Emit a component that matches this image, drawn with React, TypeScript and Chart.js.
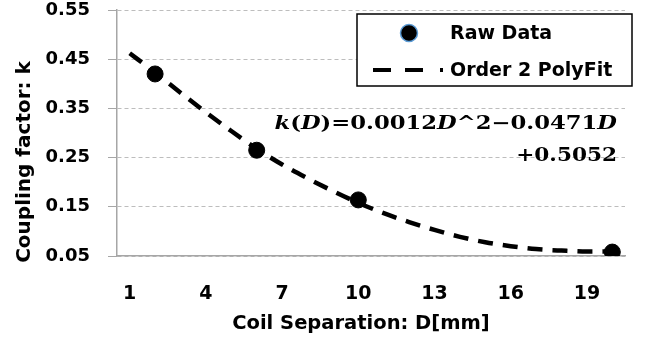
import React, { useEffect, useRef } from 'react';
import { Chart, registerables } from 'chart.js';

Chart.register(...registerables);

// ---- data ----
const rawD = [2, 6, 10, 20];
const rawK = [0.42, 0.265, 0.164, 0.058];
const fitD = [1, 2, 3, 4, 5, 6, 7, 8, 9, 10, 11, 12, 13, 14, 15, 16, 17, 18, 19, 20];
const fitK = [0.462, 0.423, 0.382, 0.342, 0.304, 0.268, 0.236, 0.208, 0.182, 0.158, 0.137, 0.119, 0.103, 0.089, 0.078, 0.07, 0.064, 0.061, 0.059, 0.059];
const xTicks = [1, 4, 7, 10, 13, 16, 19];
const yTicks = [0.05, 0.15, 0.25, 0.35, 0.45, 0.55];
const seriesNames = ['Raw Data', 'Order 2 PolyFit'];
const xTitle = 'Coil Separation: D[mm]';
const yTitle = 'Coupling factor: k';
const eqLine1: [string, boolean][] = [
  ['k', true], ['(', false], ['D', true], [')=0.0012', false], ['D', true], ['^2\u22120.0471', false], ['D', true],
];
const eqLine2 = '+0.5052';

const SANS = '"DejaVu Sans", sans-serif';
const SERIF = '"DejaVu Serif", serif';

const overlay = {
  id: 'overlay',
  afterDraw(chart: any) {
    const ctx = chart.ctx as CanvasRenderingContext2D;
    const ca = chart.chartArea;
    ctx.save();
    ctx.setLineDash([]);
    // y title
    ctx.fillStyle = '#000';
    ctx.font = `bold 20px ${SANS}`;
    ctx.textAlign = 'center';
    ctx.textBaseline = 'middle';
    ctx.save();
    ctx.translate(25, ca.top + 152);
    ctx.rotate(-Math.PI / 2);
    ctx.fillText(yTitle, 0, 0);
    ctx.restore();
    // x title
    ctx.font = `bold 19.5px ${SANS}`;
    ctx.fillText(xTitle, ca.left + 244, ca.bottom + 68);

    // legend
    const lx = 357, ly = 14, lw = 275, lh = 72;
    ctx.fillStyle = '#fff';
    ctx.fillRect(lx, ly, lw, lh);
    ctx.strokeStyle = '#000';
    ctx.lineWidth = 1.5;
    ctx.strokeRect(lx, ly, lw, lh);
    ctx.beginPath();
    ctx.arc(409, 33, 8.5, 0, Math.PI * 2);
    ctx.fillStyle = '#000';
    ctx.fill();
    ctx.strokeStyle = '#5B9BD5';
    ctx.lineWidth = 1.5;
    ctx.stroke();
    ctx.strokeStyle = '#000';
    ctx.lineWidth = 4;
    ctx.beginPath();
    ctx.moveTo(373, 70); ctx.lineTo(391, 70);
    ctx.moveTo(405, 70); ctx.lineTo(423, 70);
    ctx.moveTo(440, 70); ctx.lineTo(443, 70);
    ctx.stroke();
    ctx.fillStyle = '#000';
    ctx.font = `bold 19px ${SANS}`;
    ctx.textAlign = 'left';
    ctx.fillText(seriesNames[0], 450, 34);
    ctx.fillText(seriesNames[1], 450, 71);

    // equation
    const right = ca.right - 8;
    const segFont = (it: boolean) => `${it ? 'italic ' : ''}bold 18px ${SERIF}`;
    let total = 0;
    for (const [t, it] of eqLine1) { ctx.font = segFont(it); total += ctx.measureText(t).width; }
    const sx1 = 1.26;
    ctx.save();
    ctx.translate(right - total * sx1, 124);
    ctx.scale(sx1, 1);
    let x = 0;
    for (const [t, it] of eqLine1) {
      ctx.font = segFont(it);
      ctx.fillText(t, x, 0);
      x += ctx.measureText(t).width;
    }
    ctx.restore();
    ctx.font = segFont(false);
    const w2 = ctx.measureText(eqLine2).width;
    const sx2 = 1.2;
    ctx.save();
    ctx.translate(right - w2 * sx2, 156);
    ctx.scale(sx2, 1);
    ctx.fillText(eqLine2, 0, 0);
    ctx.restore();
    ctx.restore();
  },
};

export default function App() {
  const ref = useRef<HTMLCanvasElement>(null);
  useEffect(() => {
    if (!ref.current) return;
    const chart = new Chart(ref.current, {
      type: 'scatter',
      data: {
        datasets: [
          {
            label: seriesNames[1],
            data: fitD.map((d, i) => ({ x: d, y: fitK[i] })),
            showLine: true,
            borderColor: '#000',
            borderWidth: 4.5,
            borderDash: [15, 10],
            pointRadius: 0,
            tension: 0.4,
            cubicInterpolationMode: 'monotone',
            order: 2,
          } as any,
          {
            label: seriesNames[0],
            data: rawD.map((d, i) => ({ x: d, y: rawK[i] })),
            backgroundColor: '#000',
            borderColor: '#000',
            pointRadius: 8,
            pointHoverRadius: 8,
            order: 1,
          },
        ],
      },
      options: {
        animation: false,
        responsive: false,
        devicePixelRatio: 1,
        layout: { padding: { top: 10, right: 30, left: 0, bottom: 0 } },
        plugins: { legend: { display: false }, tooltip: { enabled: false } },
        scales: {
          x: {
            type: 'linear',
            min: 0.5,
            max: 20.5,
            afterBuildTicks: (s: any) => { s.ticks = xTicks.map((v) => ({ value: v })); },
            afterFit: (s: any) => { s.height = 81; s.paddingLeft = 0; s.paddingRight = 0; },
            grid: { display: true, drawOnChartArea: false, drawTicks: false },
            border: { color: '#A6A6A6', width: 1.5 },
            ticks: {
              autoSkip: false,
              maxRotation: 0,
              padding: 27,
              color: '#000',
              font: { family: SANS, weight: 'bold', size: 19 },
            },
          },
          y: {
            type: 'linear',
            min: 0.05,
            max: 0.55,
            afterBuildTicks: (s: any) => { s.ticks = yTicks.map((v) => ({ value: v })); },
            afterFit: (s: any) => { s.width = 117; s.paddingTop = 0; s.paddingBottom = 0; },
            grid: {
              color: '#BDBDBD',
              tickLength: 9,
              tickColor: '#A6A6A6',
              tickBorderDash: [],
              lineWidth: 1,
            } as any,
            border: { color: '#A6A6A6', width: 1.5, dash: [4, 3] },
            ticks: {
              padding: 18,
              color: '#000',
              font: { family: SANS, weight: 'bold', size: 18 },
              callback: (v: any) => Number(v).toFixed(2),
            },
          },
        },
      } as any,
      plugins: [overlay],
    });
    return () => chart.destroy();
  }, []);
  return (
    <div style={{ position: 'fixed', left: 0, top: 0, width: 655, height: 337, background: '#fff' }}>
      <canvas ref={ref} width={655} height={337} />
    </div>
  );
}
